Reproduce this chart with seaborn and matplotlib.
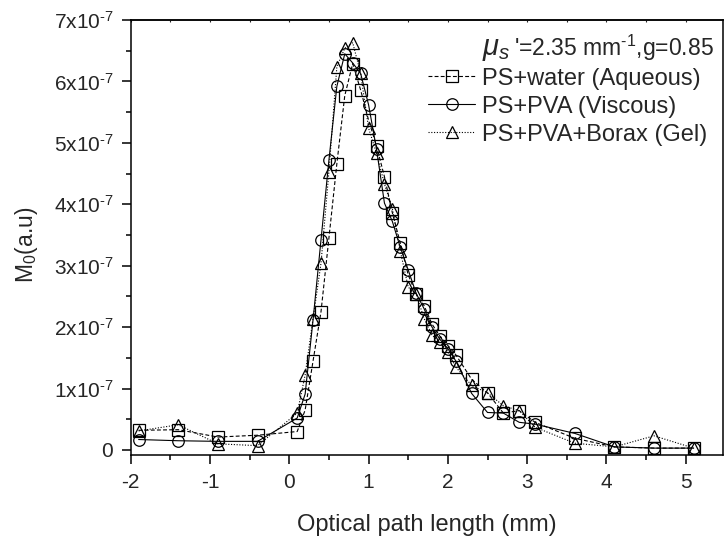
import matplotlib
matplotlib.use("Agg")
import matplotlib.pyplot as plt
import seaborn as sns
import numpy as np
import pandas as pd

# ---- data (y in units of 1e-7) ----
x_mm = [-1.9, -1.4, -0.9, -0.4, 0.1, 0.2, 0.3, 0.4, 0.5, 0.6, 0.7, 0.8, 0.9, 1.0,
        1.1, 1.2, 1.3, 1.4, 1.5, 1.6, 1.7, 1.8, 1.9, 2.0, 2.1, 2.3, 2.5, 2.7, 2.9,
        3.1, 3.6, 4.1, 4.6, 5.1]
water = [0.32, 0.33, 0.21, 0.24, 0.30, 0.65, 1.45, 2.25, 3.45, 4.66, 5.77, 6.29, 5.86, 5.37,
         4.95, 4.45, 3.86, 3.37, 2.85, 2.54, 2.35, 2.05, 1.85, 1.70, 1.55, 1.15, 0.93, 0.60, 0.64,
         0.45, 0.19, 0.05, 0.03, 0.03]
pva = [0.17, 0.15, 0.14, 0.14, 0.52, 0.91, 2.12, 3.42, 4.72, 5.92, 6.45, 6.30, 6.13, 5.62,
       4.90, 4.02, 3.72, 3.30, 2.93, 2.55, 2.30, 2.00, 1.80, 1.65, 1.45, 0.92, 0.61, 0.60, 0.45,
       0.42, 0.27, 0.05, 0.03, 0.03]
gel = [0.31, 0.41, 0.10, 0.07, 0.60, 1.22, 2.14, 3.04, 4.53, 6.24, 6.54, 6.63, 6.13, 5.24,
       4.83, 4.33, 3.93, 3.24, 2.65, 2.54, 2.14, 1.87, 1.75, 1.60, 1.35, 1.05, 0.93, 0.72, 0.64,
       0.37, 0.11, 0.05, 0.23, 0.03]
labels = ["PS+water (Aqueous)", "PS+PVA (Viscous)", "PS+PVA+Borax (Gel)"]
scale = 1e-7

sns.set_theme(style="ticks")
plt.rcParams["font.family"] = ["Liberation Sans", "DejaVu Sans"]
plt.rcParams["mathtext.fontset"] = "custom"
plt.rcParams["mathtext.rm"] = "Liberation Sans"
plt.rcParams["mathtext.it"] = "Liberation Sans:italic"
plt.rcParams["mathtext.default"] = "regular"

W, H = 725, 540
fig = plt.figure(figsize=(W / 100, H / 100), dpi=100)
ax = fig.add_axes([130.7 / W, 1 - 455.3 / H, (723 - 130.7) / W, (455.3 - 20) / H])

styles = [
    dict(marker="s", linestyle=(0, (3.5, 2.0))),
    dict(marker="o", linestyle="-"),
    dict(marker="^", linestyle=(0, (1.0, 1.5))),
]
for ys, lab, st in zip([water, pva, gel], labels, styles):
    df = pd.DataFrame({"x": x_mm, "y": np.array(ys) * scale})
    sns.lineplot(data=df, x="x", y="y", ax=ax, color="black", linewidth=0.8,
                 marker=st["marker"], linestyle=st["linestyle"], markersize=8.3,
                 mfc="none", mec="black", mew=0.9, label=lab, errorbar=None, sort=False)

ax.set_xlim(-2, 5.47)
ax.set_ylim(-0.087e-7, 7e-7)
ax.set_xticks(np.arange(-2, 6, 1))
ax.set_xticks(np.arange(-1.5, 5.5, 1), minor=True)
yt = np.arange(0, 8, 1)
ax.set_yticks(yt * scale)
ax.set_yticklabels(["0"] + [f"{v}x10$^{{\u20107}}$" for v in yt[1:]])
ax.set_yticks(np.arange(0.5, 7, 1) * scale, minor=True)
ax.set_xticklabels([str(v) for v in range(-2, 6)])

for sp in ax.spines.values():
    sp.set_linewidth(1.1)
    sp.set_color("black")
ax.tick_params(axis="both", which="major", length=6.5, width=1.1, labelsize=15,
               direction="out", color="black", pad=6)
ax.tick_params(axis="both", which="minor", length=3.5, width=1.1, direction="out", color="black")

sec = ax.secondary_xaxis("top")
sec.set_xticks(np.arange(-2, 6, 0.5))
sec.tick_params(direction="in", length=1.5, width=0.8, labeltop=False)
sec.set_xticklabels([])

ax.set_xlabel("Optical path length (mm)", fontsize=17, labelpad=16)
ax.set_ylabel("M$_0$(a.u)", fontsize=16.5)
ax.yaxis.set_label_coords(-0.153, 0.483)

leg = ax.legend(loc="upper right", bbox_to_anchor=(0.99, 0.912), frameon=False,
                fontsize=17, handlelength=2.0, handletextpad=0.3, labelspacing=0.25,
                borderaxespad=0)
fig.text(482 / W, 1 - 49 / H, r"$\mathit{\mu}_{\mathit{s}}$", fontsize=21, va="center", ha="left")
fig.text(514 / W, 1 - 48 / H, "'=2.35 mm$^{\u20101}$,g=0.85", fontsize=16.5, va="center", ha="left")

fig.savefig("out.png", dpi=100)
